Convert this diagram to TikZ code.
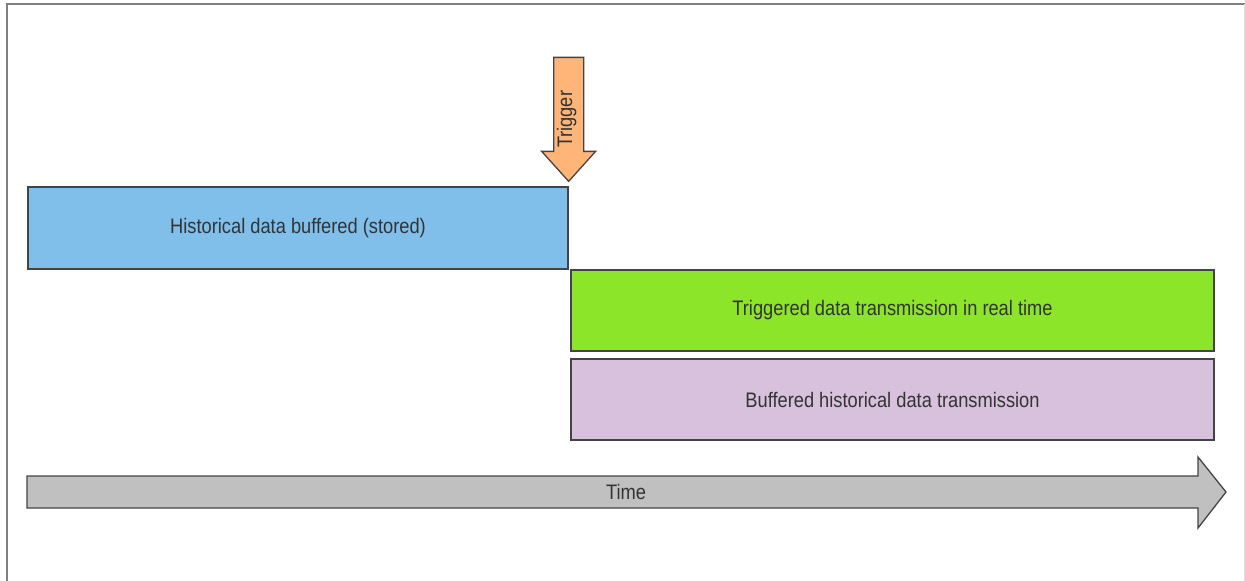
\documentclass[tikz,border=0pt]{standalone}
\usepackage{fontspec}
\setmainfont{Liberation Sans}[FakeStretch=0.87]
\usetikzlibrary{calc}

\definecolor{histblue}{HTML}{80BFEA}
\definecolor{livegreen}{HTML}{8DE52A}
\definecolor{replaypurple}{HTML}{D8C1DD}
\definecolor{trigorange}{HTML}{FFB577}
\definecolor{timegray}{HTML}{C0C0C0}
\definecolor{edgegray}{HTML}{444444}
\definecolor{labelgray}{HTML}{333333}

\begin{document}
\begin{tikzpicture}[x=1pt, y=-1pt]
    \tikzstyle{every node}=[font=\fontsize{21}{24}\selectfont, text=labelgray]
    \tikzstyle{bar}=[draw=edgegray, line width=1.3pt, minimum height=82pt, inner sep=0]
    \tikzstyle{shaft}=[draw=edgegray, line width=1.3pt, line join=miter]
    \useasboundingbox (0,0) rectangle (1245,581);
    % page frame
    \draw[color=gray, line width=2pt] (7,581) -- (7,4) -- (1245,4);
    \draw[color=gray!25] (1244,4) -- (1244,581);
    % buffering before the trigger, then the two transmissions after it
    \node[bar, fill=histblue, minimum width=540pt] (HIST) at (298,228) {Historical data buffered (stored)};
    \node[bar, fill=livegreen, minimum width=643pt, minimum height=81pt] (LIVE) at (892.5,310.5) {Triggered data transmission in real time};
    \node[bar, fill=replaypurple, minimum width=643pt, minimum height=81pt] (REPLAY) at (892.5,399.5) {Buffered historical data transmission};
    % trigger arrow pointing down just above the end of the buffer
    \coordinate (TIP) at ($(HIST.north east)+(0,-5)$);
    \draw[shaft, fill=trigorange] ($(TIP)+(-15,-124)$) -- ($(TIP)+(15,-124)$) -- ($(TIP)+(15,-30)$)
        -- ($(TIP)+(27,-30)$) -- (TIP) -- ($(TIP)+(-27,-30)$) -- ($(TIP)+(-15,-30)$) -- cycle;
    \node[rotate=90] (TRIG) at ($(TIP)+(-2,-62)$) {Trigger};
    % time axis
    \draw[shaft, fill=timegray] (27,476) -- (1198,476) -- (1198,457) -- (1226,492)
        -- (1198,528) -- (1198,508) -- (27,508) -- cycle;
    \node (TIME) at (626,492) {Time};
\end{tikzpicture}
\end{document}
